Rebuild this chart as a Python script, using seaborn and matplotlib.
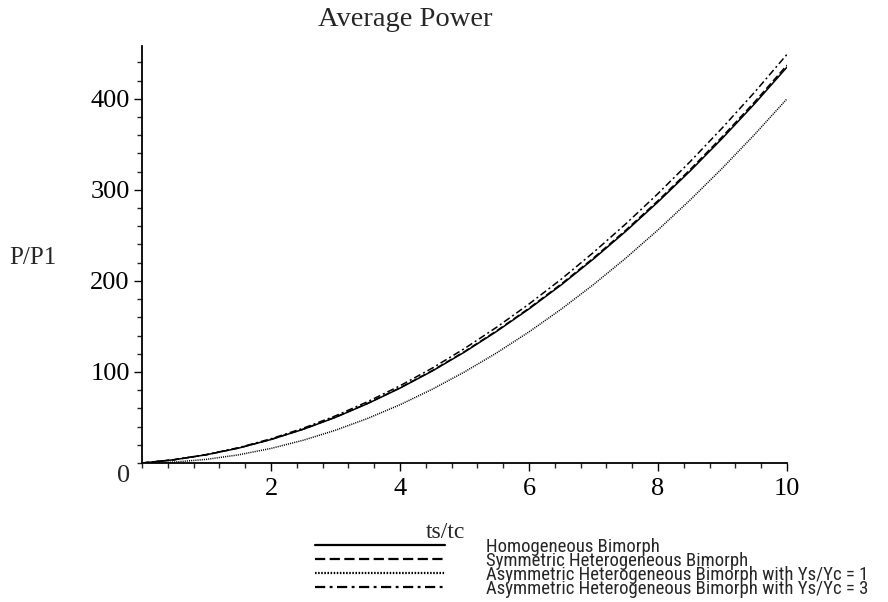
import numpy as np
import pandas as pd
import matplotlib
matplotlib.use("Agg")
import matplotlib.pyplot as plt
from matplotlib import font_manager
import seaborn as sns
from matplotlib.ticker import MultipleLocator, FixedLocator

# ---- data ----
ts_tc = [0, 0.5, 1, 1.5, 2, 2.5, 3, 3.5, 4, 4.5, 5, 5.5, 6, 6.5, 7, 7.5, 8, 8.5, 9, 9.5, 10]
homogeneous = [0, 3.6, 9.1, 16.4, 25.8, 37.0, 50.1, 65.3, 82.2, 101.0, 121.8, 144.6, 169.2,
               195.6, 224.1, 254.4, 286.7, 320.8, 356.8, 394.7, 434.8]
symmetric = [0, 3.6, 9.1, 16.5, 25.9, 37.2, 50.4, 65.6, 82.6, 101.5, 122.4, 145.3, 170.0,
             196.6, 225.2, 255.7, 288.1, 322.4, 358.6, 396.7, 437]
asym_1 = [0, 1, 4, 9, 16, 25, 36, 49, 64, 81, 100, 121, 144, 169, 196, 225, 256, 289, 324,
          361, 400]
asym_3 = [0, 3.7, 9.3, 16.9, 26.6, 38.2, 51.8, 67.4, 84.8, 104.2, 125.7, 149.2, 174.6,
          201.9, 231.3, 262.6, 295.9, 331.1, 368.3, 407.4, 448.8]
series_names = ["Homogeneous Bimorph",
                "Symmetric Heterogeneous Bimorph",
                "Asymmetric Heterogeneous Bimorph with Ys/Yc = 1",
                "Asymmetric Heterogeneous Bimorph with Ys/Yc = 3"]
x_ticks = [2, 4, 6, 8, 10]
y_ticks = [100, 200, 300, 400]

frames = []
for name, vals in zip(series_names, [homogeneous, symmetric, asym_1, asym_3]):
    frames.append(pd.DataFrame({"ts/tc": ts_tc, "P/P1": vals, "series": name}))
df = pd.concat(frames, ignore_index=True)

sns.set_style("ticks")
plt.rcParams["font.family"] = ["Liberation Serif", "DejaVu Serif"]

fig = plt.figure(figsize=(8.88, 6.02), dpi=100)
ax = fig.add_axes([142 / 888, 1 - 463 / 602, (787 - 142) / 888, (463 - 46) / 602])

dashes = {series_names[0]: "",
          series_names[1]: (4.6, 2.0),
          series_names[2]: (0.7, 0.7),
          series_names[3]: (4.6, 2.0, 1.3, 2.0)}
sns.lineplot(data=df, x="ts/tc", y="P/P1", hue="series", style="series",
             palette=["black"] * 4, dashes=dashes, linewidth=1.1, ax=ax,
             legend=True, hue_order=series_names, style_order=series_names)

ax.set_xlim(0, 10)
ax.set_ylim(0, 458)
for s in ["top", "right"]:
    ax.spines[s].set_visible(False)
for s in ["left", "bottom"]:
    ax.spines[s].set_linewidth(1.3)
    ax.spines[s].set_color("black")

ax.xaxis.set_major_locator(FixedLocator(x_ticks))
ax.yaxis.set_major_locator(FixedLocator(y_ticks))
ax.xaxis.set_minor_locator(MultipleLocator(0.4))
ax.yaxis.set_minor_locator(MultipleLocator(20))
ax.tick_params(which="major", length=5.8, width=1.0, direction="out", labelsize=19,
               colors="black")
ax.tick_params(which="minor", length=3.6, width=1.0, direction="out")
ax.tick_params(axis="x", which="major", pad=5)
ax.tick_params(axis="y", which="major", pad=3)

ax.annotate("0", xy=(0, 0), xycoords="data", xytext=(-13, -9), textcoords="offset points",
            ha="center", va="center", fontsize=19)

ax.set_xlabel("ts/tc", fontsize=17)
ax.xaxis.set_label_coords((445 - 142) / 645, (463 - 522) / 417)
ax.set_ylabel("P/P1", fontsize=18, rotation=0, ha="center", va="center")
ax.yaxis.set_label_coords((33 - 142) / 645, (463 - 258) / 417)

fig.text(405 / 888, 1 - 19 / 602, "Average Power", ha="center", va="center", fontsize=20.5)

# legend font: prefer a condensed sans family if one is installed
names = {f.name for f in font_manager.fontManager.ttflist}
leg_family = None
for cand in ["Liberation Sans Narrow", "Arial Narrow", "Roboto Condensed",
             "Open Sans Condensed", "DejaVu Sans Condensed"]:
    if cand in names:
        leg_family = cand
        break
if leg_family is None:
    leg_family = "Liberation Sans"

# fit the size so the longest label spans about 397 px
renderer = fig.canvas.get_renderer()
size = 12.0
probe = fig.text(0, 0, series_names[3], fontsize=size, family=leg_family)
w = probe.get_window_extent(renderer).width
probe.remove()
size = min(13.5, size * 397.0 / w)
row_px = 14.0
labelspacing = (row_px - 0.96 * size / 0.72) / (size / 0.72)

handles, labels = ax.get_legend_handles_labels()
for h in handles:
    h.set_linewidth(1.6)
leg = ax.legend(handles, labels, loc="upper left",
                bbox_to_anchor=(315 / 888, 1 - 538 / 602), bbox_transform=fig.transFigure,
                frameon=False, borderpad=0, borderaxespad=0, handlelength=130 * 0.72 / size,
                handletextpad=41 * 0.72 / size, labelspacing=labelspacing,
                prop={"family": leg_family, "size": size})

fig.savefig("out.png", dpi=100, facecolor="white")
